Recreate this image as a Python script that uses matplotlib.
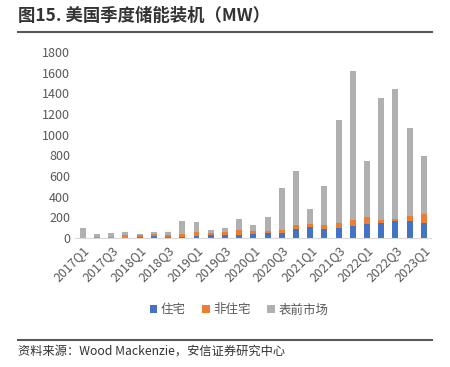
import matplotlib
matplotlib.use('Agg')
import matplotlib.pyplot as plt
from matplotlib.lines import Line2D

plt.rcParams['font.family'] = ['Noto Sans CJK SC', 'DejaVu Sans']

quarters = ['2017Q1', '2017Q2', '2017Q3', '2017Q4',
            '2018Q1', '2018Q2', '2018Q3', '2018Q4',
            '2019Q1', '2019Q2', '2019Q3', '2019Q4',
            '2020Q1', '2020Q2', '2020Q3', '2020Q4',
            '2021Q1', '2021Q2', '2021Q3', '2021Q4',
            '2022Q1', '2022Q2', '2022Q3', '2022Q4',
            '2023Q1']
residential = [0, 3, 2, 3, 10, 22, 13, 12, 20, 30, 30, 30, 43, 45, 48, 84,
               103, 90, 93, 120, 140, 150, 160, 169, 150]
non_residential = [2, 10, 11, 26, 16, 19, 16, 30, 39, 20, 26, 45, 26, 26, 32, 39,
                   29, 32, 48, 58, 68, 28, 21, 48, 87]
front_of_meter = [94, 26, 32, 32, 16, 20, 29, 118, 96, 26, 39, 107, 58, 133, 406, 530,
                  148, 383, 1001, 1441, 537, 1172, 1262, 850, 556]
series_names = ['住宅', '非住宅', '表前市场']
colors = ['#4472C4', '#ED7D31', '#B0B0B0']

fig = plt.figure(figsize=(4.5, 3.67), dpi=100)
ax = fig.add_axes([75 / 450, 1 - 238 / 367, 356 / 450, 186 / 367])

x = list(range(len(quarters)))
bottom2 = [a + b for a, b in zip(residential, non_residential)]
ax.bar(x, residential, width=0.42, color=colors[0], label=series_names[0])
ax.bar(x, non_residential, width=0.42, bottom=residential, color=colors[1], label=series_names[1])
ax.bar(x, front_of_meter, width=0.42, bottom=bottom2, color=colors[2], label=series_names[2])

ax.set_xlim(-0.55, 24.5)
ax.set_ylim(0, 1800)
ax.set_yticks(range(0, 1801, 200))
ax.set_xticks(x[::2])
ax.set_xticklabels(quarters[::2], rotation=45, ha='right', rotation_mode='anchor')
ax.tick_params(axis='both', length=0, labelsize=9, colors='#595959')
ax.tick_params(axis='x', pad=4)
for s in ['top', 'right', 'left']:
    ax.spines[s].set_visible(False)
ax.spines['bottom'].set_color('#D9D9D9')

leg = ax.legend(loc='center', bbox_to_anchor=(239 / 450, 1 - 310 / 367),
                bbox_transform=fig.transFigure, ncol=3, frameon=False,
                fontsize=9, handlelength=0.6, handleheight=0.6, handletextpad=0.3,
                columnspacing=1.3)
for t in leg.get_texts():
    t.set_color('#595959')

fig.text(18 / 450, 1 - 16 / 367, '图15. 美国季度储能装机（MW）', fontsize=12.5,
         fontweight='bold', color='#333333', va='center', ha='left')
fig.add_artist(Line2D([18 / 450, 432 / 450], [1 - 32 / 367, 1 - 32 / 367],
                      color='#595959', lw=1.5, transform=fig.transFigure))
fig.add_artist(Line2D([18 / 450, 432 / 450], [1 - 340 / 367, 1 - 340 / 367],
                      color='#595959', lw=1.5, transform=fig.transFigure))
fig.text(18 / 450, 1 - 351 / 367, '资料来源：Wood Mackenzie，安信证券研究中心', fontsize=8.8,
         style='italic', color='#333333', va='center', ha='left')

fig.savefig('out.png', dpi=100)
